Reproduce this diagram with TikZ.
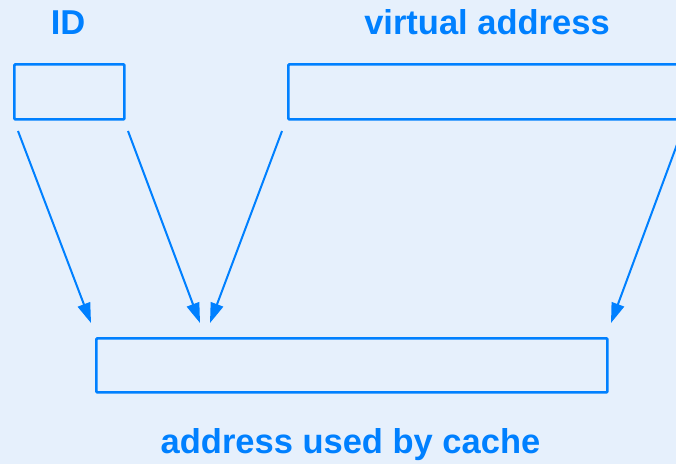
\documentclass[tikz,border=0pt]{standalone}
\usepackage{fontspec}
\setmainfont{Liberation Sans}
\usetikzlibrary{arrows.meta}
\definecolor{bg}{RGB}{230,240,252}
\definecolor{blu}{RGB}{0,128,255}
\tikzset{
  regbox/.style={draw=blu, line width=2.7pt, rounded corners=1pt, inner sep=0pt, anchor=north west},
  lbl/.style={text=blu, font=\fontsize{34.5}{40}\selectfont\bfseries, anchor=base, inner sep=0pt},
  arr/.style={draw=blu, line width=2pt, -{Triangle[length=20pt,width=13pt]}}
}
\begin{document}
\begin{tikzpicture}[x=1pt,y=-1pt]
\fill[bg] (0,0) rectangle (676,464);
\useasboundingbox (0,0) rectangle (676,464);
\clip (0,0) rectangle (676,464);
\node[lbl] (tid) at (68,34) {ID};
\node[lbl] (tva) at (487,34) {virtual address};
\node[lbl] (tcache) at (350.5,453) {address used by cache};
\node[regbox, minimum width=110pt, minimum height=55pt] (idbox) at (13,63) {};
\node[regbox, minimum width=430pt, minimum height=55pt] (vabox) at (287,63) {};
\node[regbox, minimum width=511pt, minimum height=54pt] (cbox) at (95,337) {};
\coordinate (s1) at (18,131);
\coordinate (s2) at (128,131);
\coordinate (s3) at (282,131);
\coordinate (s4) at (682,131);
\coordinate (e1) at (91,323);
\coordinate (e2) at (200,323);
\coordinate (e3) at (210,323);
\coordinate (e4) at (611,323);
\draw[arr] (s1) -- (e1);
\draw[arr] (s2) -- (e2);
\draw[arr] (s3) -- (e3);
\draw[arr] (s4) -- (e4);
\end{tikzpicture}
\end{document}
